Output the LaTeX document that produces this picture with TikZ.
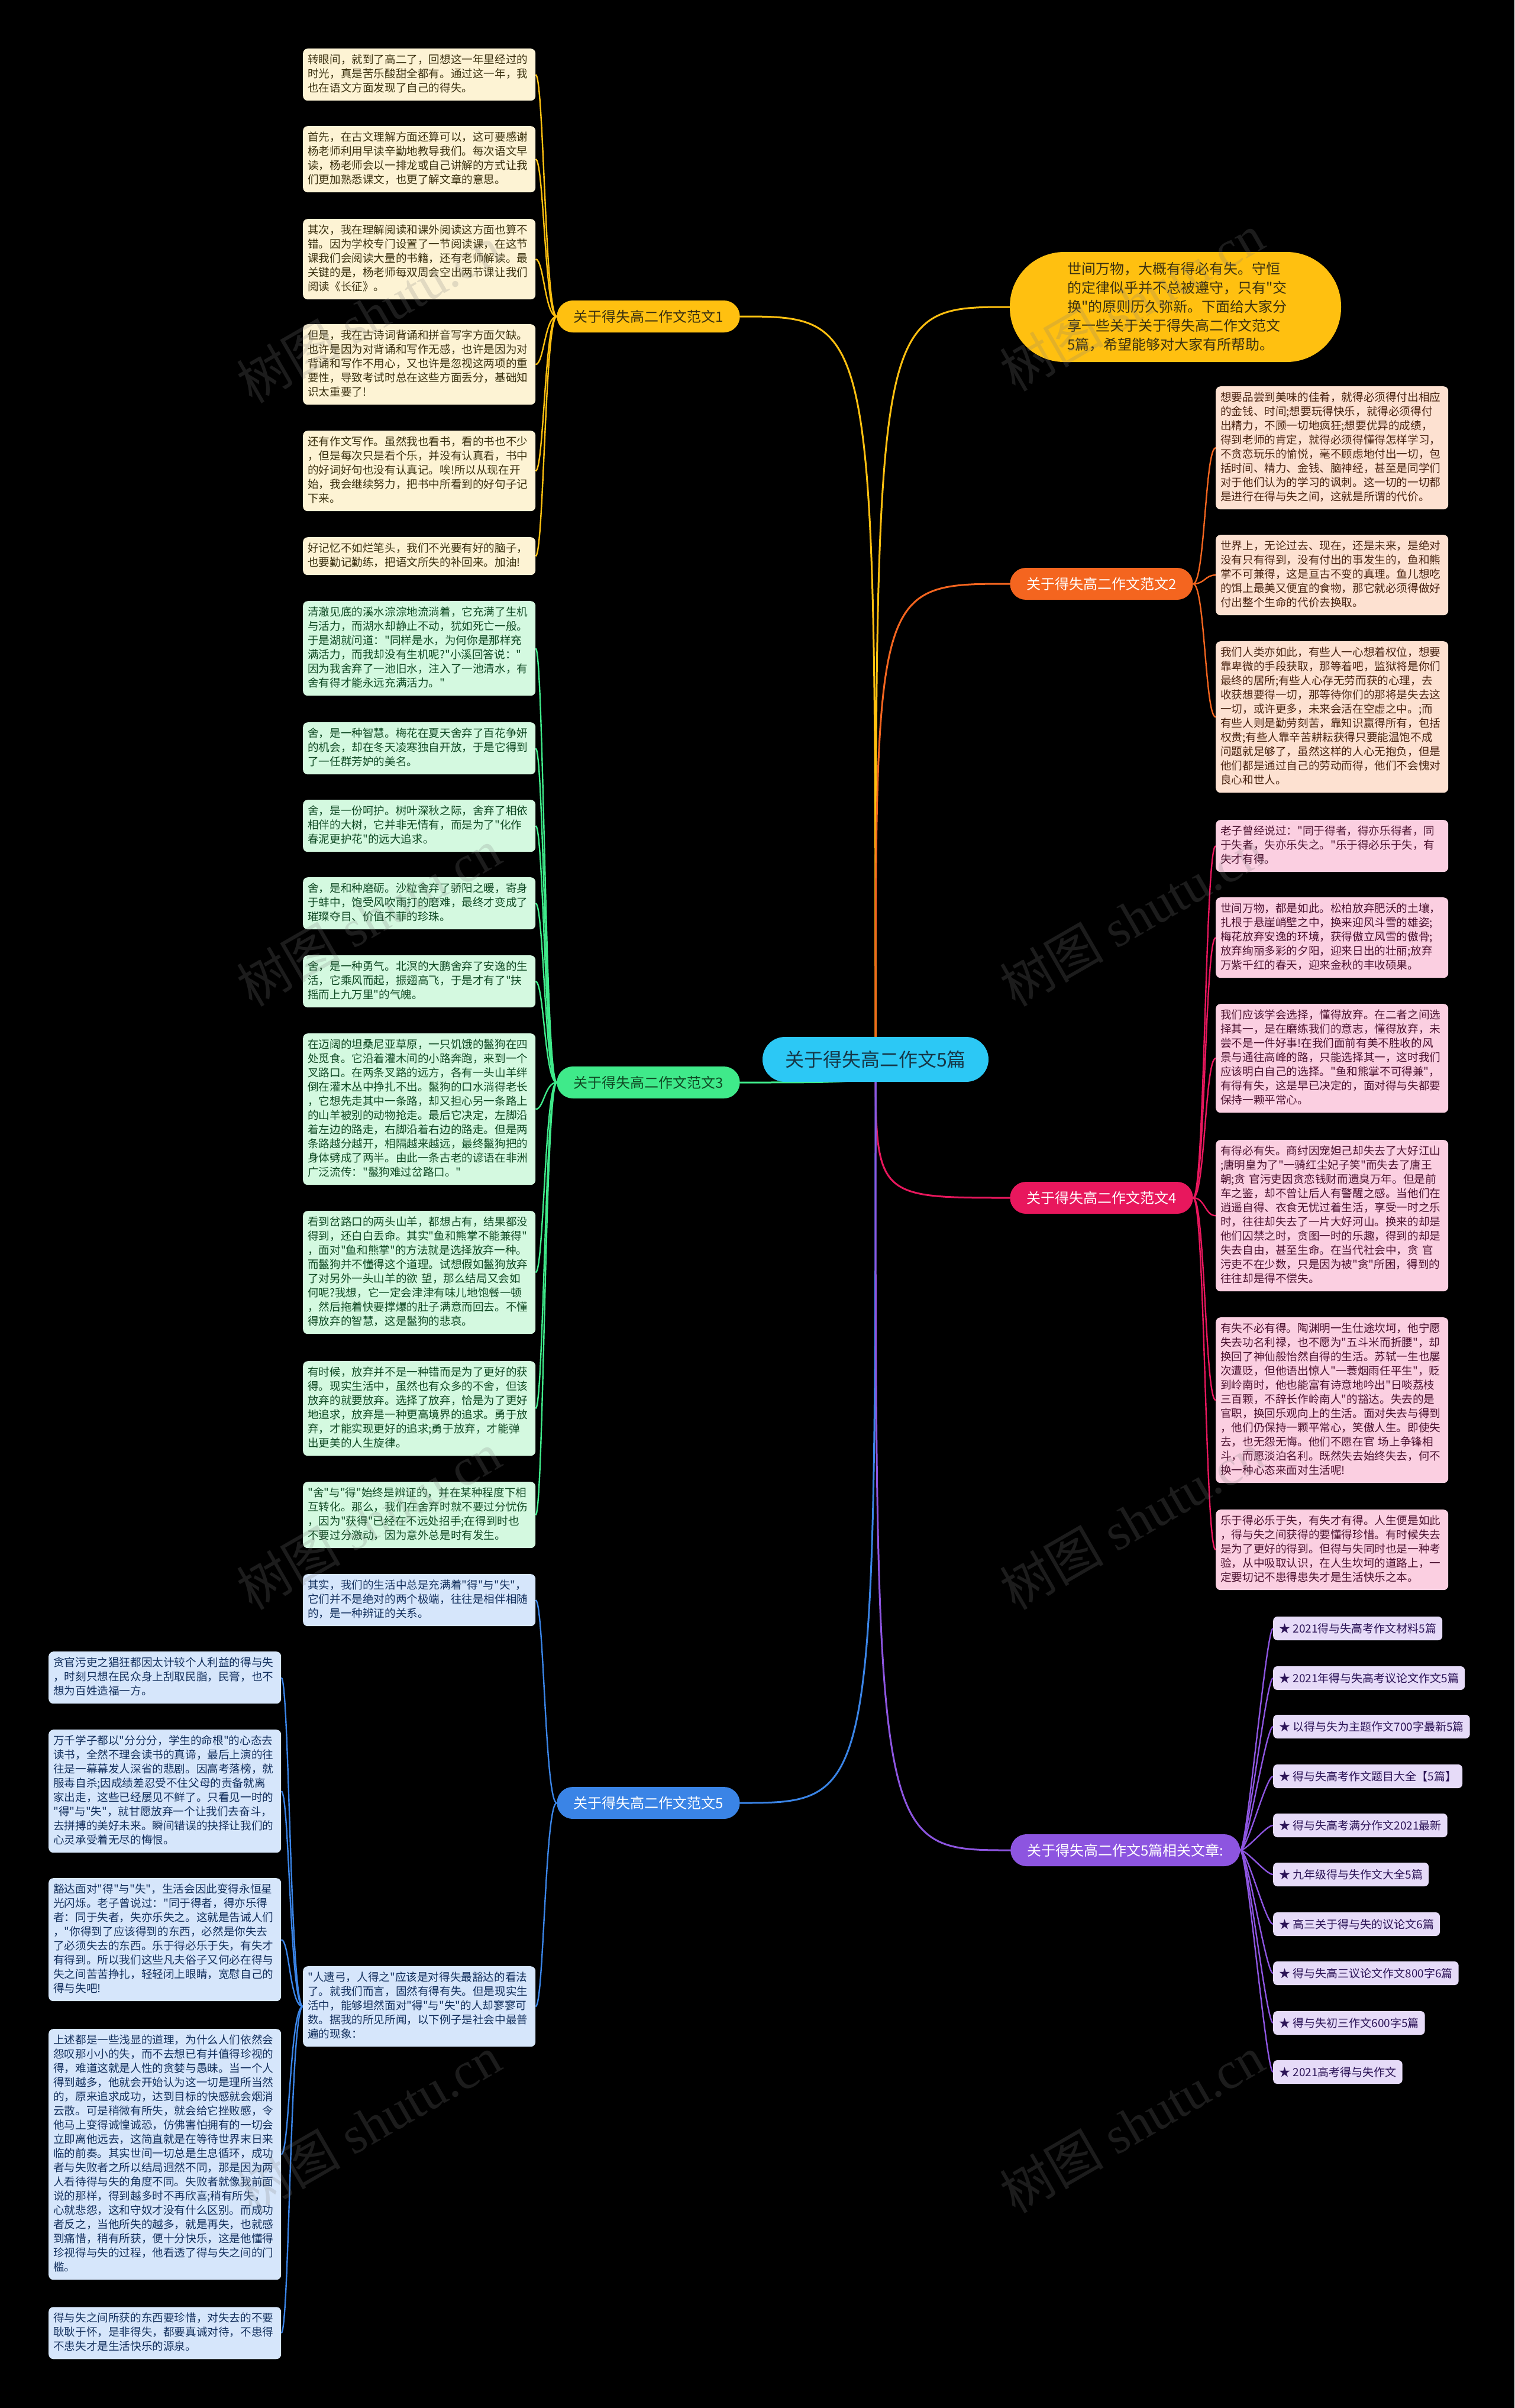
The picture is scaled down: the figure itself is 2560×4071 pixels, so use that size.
\documentclass[tikz,border=0pt]{standalone}
\usepackage{fontspec}
\setmainfont{Noto Sans CJK SC}[Ligatures=TeXOff]
\newfontfamily\wmlatin{Liberation Serif}[Ligatures=TeXOff]
\definecolor{cGold}{HTML}{FFC010}
\definecolor{cOrange}{HTML}{F4651F}
\definecolor{cGreen}{HTML}{3FEA8A}
\definecolor{cPink}{HTML}{E8175D}
\definecolor{cBlue}{HTML}{3A84E6}
\definecolor{cPurple}{HTML}{8D55E0}
\definecolor{cSky}{HTML}{2CC8F5}
\definecolor{fGold}{HTML}{FDF3D4}
\definecolor{fOrange}{HTML}{FDE1D1}
\definecolor{fGreen}{HTML}{D4F9E0}
\definecolor{fPink}{HTML}{FBCFE1}
\definecolor{fBlue}{HTML}{D6E6FB}
\definecolor{fPurple}{HTML}{E6DBF8}
\definecolor{tGold}{HTML}{3B3110}
\definecolor{tOrange}{HTML}{4A2412}
\definecolor{tGreen}{HTML}{104A24}
\definecolor{tPink}{HTML}{4C1230}
\definecolor{tBlue}{HTML}{13305E}
\definecolor{tPurple}{HTML}{2C1457}
\definecolor{tSky}{HTML}{163848}
\pgfdeclarelayer{bg}
\pgfdeclarelayer{edges}
\pgfsetlayers{bg,edges,main}
\newcommand\lfnt{\fontsize{18.6pt}{24pt}\selectfont}
\newcommand\lstr{\rule[-6.5pt]{0pt}{24pt}}
\newcommand\ifnt{\fontsize{24pt}{32pt}\selectfont}
\newcommand\istr{\rule[-8pt]{0pt}{32pt}}
\newcommand\bfnt{\fontsize{24pt}{28pt}\selectfont}
\newcommand\cfnt{\fontsize{32pt}{36pt}\selectfont}
\newcommand\rfnt{\fontsize{19pt}{23pt}\selectfont}
\newcommand\wmfnt{\fontsize{88pt}{90pt}\selectfont}
\begin{document}
\begin{tikzpicture}[x=1pt,y=-1pt,
  leaf/.style={rounded corners=8pt, anchor=north west, text width=377pt,
    inner xsep=8pt, inner ysep=8pt, align=left, font=\lfnt,
    execute at begin node=\lstr, execute at end node=\lstr},
  leafY/.style={leaf, fill=fGold, text=tGold},
  leafO/.style={leaf, fill=fOrange, text=tOrange},
  leafG/.style={leaf, fill=fGreen, text=tGreen},
  leafP/.style={leaf, fill=fPink, text=tPink},
  leafB/.style={leaf, fill=fBlue, text=tBlue},
  relbox/.style={rounded corners=7pt, anchor=west, fill=fPurple, text=tPurple,
    minimum height=40pt, inner xsep=10pt, inner ysep=0pt, font=\rfnt},
  branch/.style={rounded corners=27pt, minimum height=54pt, inner xsep=28pt,
    inner ysep=0pt, font=\bfnt, text=white},
  rootbox/.style={rounded corners=38pt, minimum height=76pt, minimum width=382pt,
    inner ysep=0pt, fill=cSky, text=tSky, font=\cfnt},
  introbox/.style={fill=cGold, text=tGold, rounded corners=92pt, text width=366pt,
    inner xsep=97pt, inner ysep=13pt, align=left, font=\ifnt,
    execute at begin node=\istr, execute at end node=\istr},
  trunk/.style={line width=3pt, line cap=round},
  twig/.style={line width=2.4pt},
  wmc/.style={text=gray, opacity=0.22, anchor=base west, inner sep=0pt,
    transform shape, font=\wmfnt}]
\useasboundingbox (0,0) rectangle (2560,4071);
\begin{pgfonlayer}{bg}
\fill[black] (0,0) rectangle (2560,4071);
\end{pgfonlayer}

% root and branches
\node[rootbox] (c) at (1480,1791) {关于得失高二作文5篇};
\node[introbox] (intro) at (1987,519) {世间万物，大概有得必有失。守恒\\的定律似乎并不总被遵守，只有"交\\换"的原则历久弥新。下面给大家分\\享一些关于关于得失高二作文范文\\5篇，希望能够对大家有所帮助。};
\node[branch, fill=cGold, text=tGold] (b1) at (1096,535) {关于得失高二作文范文1};
\node[branch, fill=cOrange] (b2) at (1862,987) {关于得失高二作文范文2};
\node[branch, fill=cGreen, text=tGreen] (b3) at (1096,1830) {关于得失高二作文范文3};
\node[branch, fill=cPink] (b4) at (1862,2025) {关于得失高二作文范文4};
\node[branch, fill=cBlue] (b5) at (1096,3048) {关于得失高二作文范文5};
\node[branch, fill=cPurple, anchor=west] (b6) at (1708,3128) {关于得失高二作文5篇相关文章:};

% branch 1
\node[leafY] (l1a) at (512,82) {转眼间，就到了高二了，回想这一年里经过的\\时光，真是苦乐酸甜全都有。通过这一年，我\\也在语文方面发现了自己的得失。};
\node[leafY] (l1b) at (512,213) {首先，在古文理解方面还算可以，这可要感谢\\杨老师利用早读辛勤地教导我们。每次语文早\\读，杨老师会以一排龙或自己讲解的方式让我\\们更加熟悉课文，也更了解文章的意思。};
\node[leafY] (l1c) at (512,370) {其次，我在理解阅读和课外阅读这方面也算不\\错。因为学校专门设置了一节阅读课，在这节\\课我们会阅读大量的书籍，还有老师解读。最\\关键的是，杨老师每双周会空出两节课让我们\\阅读《长征》。};
\node[leafY] (l1d) at (512,548) {但是，我在古诗词背诵和拼音写字方面欠缺。\\也许是因为对背诵和写作无感，也许是因为对\\背诵和写作不用心，又也许是忽视这两项的重\\要性，导致考试时总在这些方面丢分，基础知\\识太重要了!};
\node[leafY] (l1e) at (512,728) {还有作文写作。虽然我也看书，看的书也不少\\，但是每次只是看个乐，并没有认真看，书中\\的好词好句也没有认真记。唉!所以从现在开\\始，我会继续努力，把书中所看到的好句子记\\下来。};
\node[leafY] (l1f) at (512,908) {好记忆不如烂笔头，我们不光要有好的脑子，\\也要勤记勤练，把语文所失的补回来。加油!};

% branch 2
\node[leafO] (l2a) at (2055,653) {想要品尝到美味的佳肴，就得必须得付出相应\\的金钱、时间;想要玩得快乐，就得必须得付\\出精力，不顾一切地疯狂;想要优异的成绩，\\得到老师的肯定，就得必须得懂得怎样学习，\\不贪恋玩乐的愉悦，毫不顾虑地付出一切，包\\括时间、精力、金钱、脑神经，甚至是同学们\\对于他们认为的学习的讽刺。这一切的一切都\\是进行在得与失之间，这就是所谓的代价。};
\node[leafO] (l2b) at (2055,904) {世界上，无论过去、现在，还是未来，是绝对\\没有只有得到，没有付出的事发生的，鱼和熊\\掌不可兼得，这是亘古不变的真理。鱼儿想吃\\的饵上最美又便宜的食物，那它就必须得做好\\付出整个生命的代价去换取。};
\node[leafO] (l2c) at (2055,1084) {我们人类亦如此，有些人一心想着权位，想要\\靠卑微的手段获取，那等着吧，监狱将是你们\\最终的居所;有些人心存无劳而获的心理，去\\收获想要得一切，那等待你们的那将是失去这\\一切，或许更多，未来会活在空虚之中。;而\\有些人则是勤劳刻苦，靠知识赢得所有，包括\\权贵;有些人靠辛苦耕耘获得只要能温饱不成\\问题就足够了，虽然这样的人心无抱负，但是\\他们都是通过自己的劳动而得，他们不会愧对\\良心和世人。};

% branch 3
\node[leafG] (l3a) at (512,1016) {清澈见底的溪水淙淙地流淌着，它充满了生机\\与活力，而湖水却静止不动，犹如死亡一般。\\于是湖就问道："同样是水，为何你是那样充\\满活力，而我却没有生机呢?"小溪回答说："\\因为我舍弃了一池旧水，注入了一池清水，有\\舍有得才能永远充满活力。"};
\node[leafG] (l3b) at (512,1221) {舍，是一种智慧。梅花在夏天舍弃了百花争妍\\的机会，却在冬天凌寒独自开放，于是它得到\\了一任群芳妒的美名。};
\node[leafG] (l3c) at (512,1352) {舍，是一份呵护。树叶深秋之际，舍弃了相依\\相伴的大树，它并非无情有，而是为了"化作\\春泥更护花"的远大追求。};
\node[leafG] (l3d) at (512,1483) {舍，是和种磨砺。沙粒舍弃了骄阳之暖，寄身\\于蚌中，饱受风吹雨打的磨难，最终才变成了\\璀璨夺目、价值不菲的珍珠。};
\node[leafG] (l3e) at (512,1615) {舍，是一种勇气。北溟的大鹏舍弃了安逸的生\\活，它乘风而起，振翅高飞，于是才有了"扶\\摇而上九万里"的气魄。};
\node[leafG] (l3f) at (512,1747) {在迈阔的坦桑尼亚草原，一只饥饿的鬣狗在四\\处觅食。它沿着灌木间的小路奔跑，来到一个\\叉路口。在两条叉路的远方，各有一头山羊绊\\倒在灌木丛中挣扎不出。鬣狗的口水淌得老长\\，它想先走其中一条路，却又担心另一条路上\\的山羊被别的动物抢走。最后它决定，左脚沿\\着左边的路走，右脚沿着右边的路走。但是两\\条路越分越开，相隔越来越远，最终鬣狗把的\\身体劈成了两半。由此一条古老的谚语在非洲\\广泛流传："鬣狗难过岔路口。"};
\node[leafG] (l3g) at (512,2047) {看到岔路口的两头山羊，都想占有，结果都没\\得到，还白白丢命。其实"鱼和熊掌不能兼得"\\，面对"鱼和熊掌"的方法就是选择放弃一种。\\而鬣狗并不懂得这个道理。试想假如鬣狗放弃\\了对另外一头山羊的欲 望，那么结局又会如\\何呢?我想，它一定会津津有味儿地饱餐一顿\\，然后拖着快要撑爆的肚子满意而回去。不懂\\得放弃的智慧，这是鬣狗的悲哀。};
\node[leafG] (l3h) at (512,2301) {有时候，放弃并不是一种错而是为了更好的获\\得。现实生活中，虽然也有众多的不舍，但该\\放弃的就要放弃。选择了放弃，恰是为了更好\\地追求，放弃是一种更高境界的追求。勇于放\\弃，才能实现更好的追求;勇于放弃，才能弹\\出更美的人生旋律。};
\node[leafG] (l3i) at (512,2505) {"舍"与"得"始终是辨证的，并在某种程度下相\\互转化。那么，我们在舍弃时就不要过分忧伤\\，因为"获得"已经在不远处招手;在得到时也\\不要过分激动，因为意外总是时有发生。};

% branch 4
\node[leafP] (l4a) at (2055,1386) {老子曾经说过："同于得者，得亦乐得者，同\\于失者，失亦乐失之。"乐于得必乐于失，有\\失才有得。};
\node[leafP] (l4b) at (2055,1517) {世间万物，都是如此。松柏放弃肥沃的土壤，\\扎根于悬崖峭壁之中，换来迎风斗雪的雄姿;\\梅花放弃安逸的环境，获得傲立风雪的傲骨;\\放弃绚丽多彩的夕阳，迎来日出的壮丽;放弃\\万紫千红的春天，迎来金秋的丰收硕果。};
\node[leafP] (l4c) at (2055,1697) {我们应该学会选择，懂得放弃。在二者之间选\\择其一，是在磨练我们的意志，懂得放弃，未\\尝不是一件好事!在我们面前有美不胜收的风\\景与通往高峰的路，只能选择其一，这时我们\\应该明白自己的选择。"鱼和熊掌不可得兼"，\\有得有失，这是早已决定的，面对得与失都要\\保持一颗平常心。};
\node[leafP] (l4d) at (2055,1927) {有得必有失。商纣因宠妲己却失去了大好江山\\;唐明皇为了"一骑红尘妃子笑"而失去了唐王\\朝;贪 官污吏因贪恋钱财而遗臭万年。但是前\\车之鉴，却不曾让后人有警醒之感。当他们在\\逍遥自得、衣食无忧过着生活，享受一时之乐\\时，往往却失去了一片大好河山。换来的却是\\他们囚禁之时，贪图一时的乐趣，得到的却是\\失去自由，甚至生命。在当代社会中，贪 官\\污吏不在少数，只是因为被"贪"所困，得到的\\往往却是得不偿失。};
\node[leafP] (l4e) at (2055,2227) {有失不必有得。陶渊明一生仕途坎坷，他宁愿\\失去功名利禄，也不愿为"五斗米而折腰"，却\\换回了神仙般怡然自得的生活。苏轼一生也屡\\次遭贬，但他语出惊人"一蓑烟雨任平生"，贬\\到岭南时，他也能富有诗意地吟出"日啖荔枝\\三百颗，不辞长作岭南人"的豁达。失去的是\\官职，换回乐观向上的生活。面对失去与得到\\，他们仍保持一颗平常心，笑傲人生。即使失\\去，也无怨无悔。他们不愿在官 场上争锋相\\斗，而愿淡泊名利。既然失去始终失去，何不\\换一种心态来面对生活呢!};
\node[leafP] (l4f) at (2055,2552) {乐于得必乐于失，有失才有得。人生便是如此\\，得与失之间获得的要懂得珍惜。有时候失去\\是为了更好的得到。但得与失同时也是一种考\\验，从中吸取认识，在人生坎坷的道路上，一\\定要切记不患得患失才是生活快乐之本。};

% branch 5
\node[leafB] (l5a) at (512,2661) {其实，我们的生活中总是充满着"得"与"失"，\\它们并不是绝对的两个极端，往往是相伴相随\\的，是一种辨证的关系。};
\node[leafB] (l5b) at (512,3324) {"人遗弓，人得之"应该是对得失最豁达的看法\\了。就我们而言，固然有得有失。但是现实生\\活中，能够坦然面对"得"与"失"的人却寥寥可\\数。据我的所见所闻，以下例子是社会中最普\\遍的现象：};
\node[leafB] (m1) at (82,2792) {贪官污吏之猖狂都因太计较个人利益的得与失\\，时刻只想在民众身上刮取民脂，民膏，也不\\想为百姓造福一方。};
\node[leafB] (m2) at (82,2924) {万千学子都以"分分分，学生的命根"的心态去\\读书，全然不理会读书的真谛，最后上演的往\\往是一幕幕发人深省的悲剧。因高考落榜，就\\服毒自杀;因成绩差忍受不住父母的责备就离\\家出走，这些已经屡见不鲜了。只看见一时的\\"得"与"失"，就甘愿放弃一个让我们去奋斗，\\去拼搏的美好未来。瞬间错误的抉择让我们的\\心灵承受着无尽的悔恨。};
\node[leafB] (m3) at (82,3175) {豁达面对"得"与"失"，生活会因此变得永恒星\\光闪烁。老子曾说过："同于得者，得亦乐得\\者：同于失者，失亦乐失之。这就是告诫人们\\，"你得到了应该得到的东西，必然是你失去\\了必须失去的东西。乐于得必乐于失，有失才\\有得到。所以我们这些凡夫俗子又何必在得与\\失之间苦苦挣扎，轻轻闭上眼睛，宽慰自己的\\得与失吧!};
\node[leafB] (m4) at (82,3430) {上述都是一些浅显的道理，为什么人们依然会\\怨叹那小小的失，而不去想已有并值得珍视的\\得，难道这就是人性的贪婪与愚昧。当一个人\\得到越多，他就会开始认为这一切是理所当然\\的，原来追求成功，达到目标的快感就会烟消\\云散。可是稍微有所失，就会给它挫败感，令\\他马上变得诚惶诚恐，仿佛害怕拥有的一切会\\立即离他远去，这简直就是在等待世界末日来\\临的前奏。其实世间一切总是生息循环，成功\\者与失败者之所以结局迥然不同，那是因为两\\人看待得与失的角度不同。失败者就像我前面\\说的那样，得到越多时不再欣喜;稍有所失，\\心就悲怨，这和守奴才没有什么区别。而成功\\者反之，当他所失的越多，就是再失，也就感\\到痛惜，稍有所获，便十分快乐，这是他懂得\\珍视得与失的过程，他看透了得与失之间的门\\槛。};
\node[leafB] (m5) at (82,3900) {得与失之间所获的东西要珍惜，对失去的不要\\耿耿于怀，是非得失，都要真诚对待，不患得\\不患失才是生活快乐的源泉。};

% related
\node[relbox] (r1) at (2152,2753) {★ 2021得与失高考作文材料5篇};
\node[relbox] (r2) at (2152,2837) {★ 2021年得与失高考议论文作文5篇};
\node[relbox] (r3) at (2152,2919) {★ 以得与失为主题作文700字最新5篇};
\node[relbox] (r4) at (2152,3003) {★ 得与失高考作文题目大全【5篇】};
\node[relbox] (r5) at (2152,3086) {★ 得与失高考满分作文2021最新};
\node[relbox] (r6) at (2152,3169) {★ 九年级得与失作文大全5篇};
\node[relbox] (r7) at (2152,3253) {★ 高三关于得与失的议论文6篇};
\node[relbox] (r8) at (2152,3336) {★ 得与失高三议论文作文800字6篇};
\node[relbox] (r9) at (2152,3420) {★ 得与失初三作文600字5篇};
\node[relbox] (r10) at (2152,3503) {★ 2021高考得与失作文};

\begin{pgfonlayer}{edges}
\draw[trunk, cGold] (c.center) .. controls (c.center |- b1.east) .. (b1.east);
\draw[trunk, cGold] (c.center) .. controls (c.center |- intro.west) .. (intro.west);
\draw[trunk, cOrange] (c.center) .. controls (c.center |- b2.west) .. (b2.west);
\draw[trunk, cGreen] (c.center) .. controls (c.center |- b3.east) .. (b3.east);
\draw[trunk, cPink] (c.center) .. controls (c.center |- b4.west) .. (b4.west);
\draw[trunk, cBlue] (c.center) .. controls (c.center |- b5.east) .. (b5.east);
\draw[trunk, cPurple] (c.center) .. controls (c.center |- b6.west) .. (b6.west);
\foreach \n in {a,b,c,d,e,f}
  \draw[twig, cGold] (b1.west) .. controls +(-20,0) and +(14,0) .. (l1\n.east);
\foreach \n in {a,b,c}
  \draw[twig, cOrange] (b2.east) .. controls +(20,0) and +(-18,0) .. (l2\n.west);
\foreach \n in {a,b,c,d,e,f,g,h,i}
  \draw[twig, cGreen] (b3.west) .. controls +(-20,0) and +(14,0) .. (l3\n.east);
\foreach \n in {a,b,c,d,e,f}
  \draw[twig, cPink] (b4.east) .. controls +(20,0) and +(-18,0) .. (l4\n.west);
\foreach \n in {a,b}
  \draw[twig, cBlue] (b5.west) .. controls +(-20,0) and +(14,0) .. (l5\n.east);
\foreach \n in {1,2,3,4,5}
  \draw[twig, cBlue] (l5b.west) .. controls +(-22,0) and +(14,0) .. (m\n.east);
\foreach \n in {1,2,3,4,5,6,7,8,9,10}
  \draw[twig, cPurple] (b6.east) .. controls +(12,0) and +(-12,0) .. (r\n.west);
\end{pgfonlayer}

% watermarks, set letter by letter along a slanted line
\foreach \px/\py in {640/560,1930/540,640/1580,1930/1580,640/2600,1930/2600,640/3620,1930/3620}{
  \begin{scope}[shift={(\px,\py)}, rotate=30]
    \node[wmc] at (-247,0) {树};
    \node[wmc] at (-159,0) {图};
    \foreach \ch/\dx in {s/-49, h/-14.8, u/29.2, t/73.2, u/97.7, c/163.7, n/202.7}
      \node[wmc, font=\wmlatin\wmfnt] at (\dx,0) {\ch};
    \node[wmc, font=\wmlatin\wmfnt] at (141.7,0) {.};
  \end{scope}}
\end{tikzpicture}
\end{document}
